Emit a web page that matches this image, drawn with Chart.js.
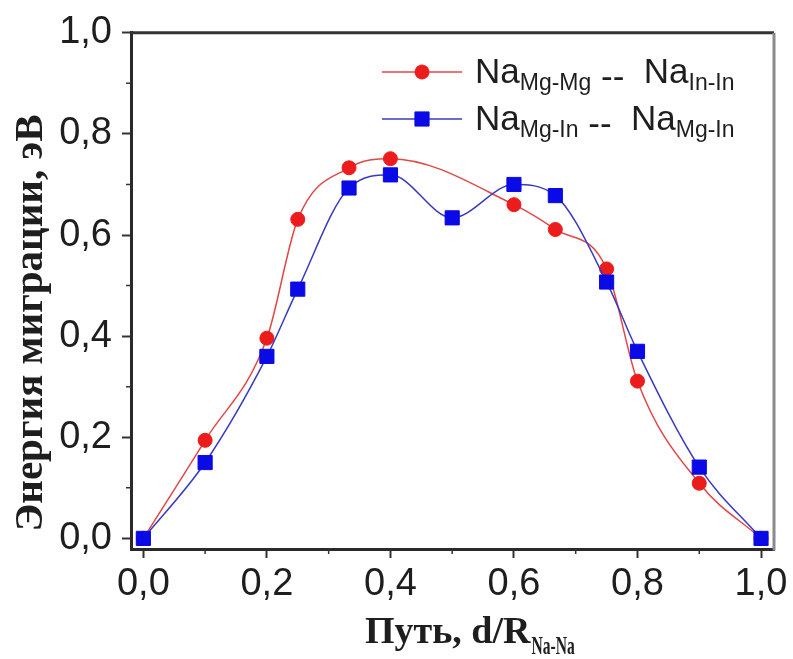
<!DOCTYPE html>
<html>
<head>
<meta charset="utf-8">
<title>Энергия миграции Na</title>
<script src="https://cdn.jsdelivr.net/npm/chart.js@4.4.1/dist/chart.umd.min.js"></script>
<style>
  html, body { margin: 0; padding: 0; background: #fff; }
  #wrap { width: 793px; height: 659px; }
</style>
</head>
<body>
<div id="wrap"><canvas id="chart" width="793" height="659"></canvas></div>
<script>
// path coordinate d/R(Na-Na) and migration energy (eV)
const mgMgX = [0, 0.1, 0.2, 0.25, 0.333, 0.4, 0.6, 0.667, 0.75, 0.8, 0.9, 1.0];
const mgMgY = [0, 0.194, 0.396, 0.631, 0.733, 0.751, 0.660, 0.611, 0.533, 0.311, 0.109, 0];

const mgInX = [0, 0.1, 0.2, 0.25, 0.333, 0.4, 0.5, 0.6, 0.667, 0.75, 0.8, 0.9, 1.0];
const mgInY = [0, 0.150, 0.360, 0.493, 0.693, 0.719, 0.634, 0.700, 0.678, 0.507, 0.370, 0.141, 0];

const xTicks = [0, 0.2, 0.4, 0.6, 0.8, 1.0];
const yTicks = [0, 0.2, 0.4, 0.6, 0.8, 1.0];
const xMinor = [0.1, 0.3, 0.5, 0.7, 0.9];
const yMinor = [0.1, 0.3, 0.5, 0.7, 0.9];

// legend rows: "Na" + subscript, "--", "Na" + subscript
const legendSubA = ['Mg-Mg', 'Mg-In'];
const legendSubB = ['In-In', 'Mg-In'];

const yTitle = 'Энергия миграции, эВ';
const xTitle = 'Путь, d/R';
const xTitleSub = 'Na-Na';

const RED = '#ec1c1c';
const RED_LINE = '#e04848';
const BLUE = '#0a0ae6';
const BLUE_LINE = '#3a3ac0';
const INK = '#1e1e1e';

const SANS = '"Liberation Sans", Arial, sans-serif';
const SERIF = '"Liberation Serif", "Times New Roman", serif';

const comma = v => Number(v).toFixed(1).replace('.', ',');
const toPoints = (xs, ys) => xs.map((x, i) => ({ x, y: ys[i] }));

// pieces: { t, sub } or { t, dy } drawn one after another on a baseline
function richText(ctx, x, y, pieces) {
  for (const p of pieces) {
    ctx.font = p.sub ? `23px ${SANS}` : `35px ${SANS}`;
    ctx.fillText(p.t, x, y + (p.sub ? 7 : (p.dy || 0)));
    x += ctx.measureText(p.t).width;
  }
}

const decorations = {
  id: 'decorations',
  afterDraw(chart) {
    const { ctx, chartArea: a, scales: { x, y } } = chart;
    ctx.save();

    // top and right frame
    ctx.lineWidth = 3;
    ctx.strokeStyle = '#333';
    ctx.beginPath();
    ctx.moveTo(a.left, a.top);
    ctx.lineTo(a.right, a.top);
    ctx.stroke();
    ctx.strokeStyle = '#8a8a8a';
    ctx.beginPath();
    ctx.moveTo(a.right, a.top);
    ctx.lineTo(a.right, a.bottom + 1.5);
    ctx.stroke();

    // minor ticks
    ctx.strokeStyle = '#333';
    ctx.lineWidth = 1.5;
    ctx.beginPath();
    xMinor.forEach(v => {
      const px = x.getPixelForValue(v);
      ctx.moveTo(px, a.bottom);
      ctx.lineTo(px, a.bottom + 5);
    });
    yMinor.forEach(v => {
      const py = y.getPixelForValue(v);
      ctx.moveTo(a.left, py);
      ctx.lineTo(a.left - 5, py);
    });
    ctx.stroke();

    // legend
    const rows = [
      { ds: chart.data.datasets[0], lineY: 72, base: 83 },
      { ds: chart.data.datasets[1], lineY: 119, base: 130 },
    ];
    rows.forEach((r, i) => {
      ctx.strokeStyle = r.ds.borderColor;
      ctx.lineWidth = r.ds.borderWidth;
      ctx.beginPath();
      ctx.moveTo(382, r.lineY);
      ctx.lineTo(462, r.lineY);
      ctx.stroke();
      ctx.fillStyle = r.ds.pointBackgroundColor;
      ctx.strokeStyle = r.ds.pointBorderColor;
      ctx.lineWidth = 1;
      Chart.helpers.drawPoint(ctx, { pointStyle: r.ds.pointStyle, radius: r.ds.pointRadius, borderWidth: 1 }, 422, r.lineY);
      ctx.fillStyle = INK;
      ctx.textAlign = 'left';
      ctx.textBaseline = 'alphabetic';
      richText(ctx, 475, r.base, [
        { t: 'Na' }, { t: legendSubA[i], sub: true },
        { t: ' --', dy: 5 }, { t: '  ' },
        { t: 'Na' }, { t: legendSubB[i], sub: true },
      ]);
    });

    // axis titles
    ctx.fillStyle = INK;
    ctx.save();
    ctx.translate(42, 323);
    ctx.rotate(-Math.PI / 2);
    ctx.textAlign = 'center';
    ctx.textBaseline = 'alphabetic';
    ctx.font = `bold 41px ${SERIF}`;
    ctx.fillText(yTitle, 0, 0);
    ctx.restore();

    ctx.textAlign = 'left';
    ctx.font = `bold 38px ${SERIF}`;
    ctx.fillText(xTitle, 365, 643);
    const subX = 365 + ctx.measureText(xTitle).width + 1;
    ctx.save();
    ctx.translate(subX, 654);
    ctx.scale(0.6, 1);
    ctx.font = `bold 26px ${SERIF}`;
    ctx.fillText(xTitleSub, 0, 0);
    ctx.restore();

    ctx.restore();
  }
};

const tickFont = { family: SANS, size: 38 };

new Chart(document.getElementById('chart'), {
  type: 'scatter',
  data: {
    datasets: [
      {
        label: 'NaMg-Mg -- NaIn-In',
        data: toPoints(mgMgX, mgMgY),
        showLine: true,
        cubicInterpolationMode: 'monotone',
        borderColor: RED_LINE,
        borderWidth: 1.5,
        pointStyle: 'circle',
        pointRadius: 7,
        pointBackgroundColor: RED,
        pointBorderColor: RED,
        pointBorderWidth: 1,
        order: 1,
      },
      {
        label: 'NaMg-In -- NaMg-In',
        data: toPoints(mgInX, mgInY),
        showLine: true,
        cubicInterpolationMode: 'monotone',
        borderColor: BLUE_LINE,
        borderWidth: 1.5,
        pointStyle: 'rect',
        pointRadius: 10,
        pointBackgroundColor: BLUE,
        pointBorderColor: BLUE,
        pointBorderWidth: 1,
        order: 0,
      },
    ],
  },
  options: {
    responsive: false,
    animation: false,
    layout: { padding: { top: 29, right: 19, left: 0, bottom: 0 } },
    plugins: { legend: { display: false }, tooltip: { enabled: false } },
    scales: {
      x: {
        type: 'linear',
        min: -0.02,
        max: 1.021,
        afterBuildTicks: s => { s.ticks = xTicks.map(v => ({ value: v })); },
        afterFit: s => { s.height = 110; },
        grid: { drawOnChartArea: false, tickLength: 9, tickWidth: 2, tickColor: '#333' },
        border: { color: '#2a2a2a', width: 3 },
        ticks: { font: tickFont, color: INK, padding: 4, maxRotation: 0, callback: comma },
      },
      y: {
        type: 'linear',
        min: -0.021,
        max: 1.0,
        afterBuildTicks: s => { s.ticks = yTicks.map(v => ({ value: v })); },
        afterFit: s => { s.width = 131; },
        grid: { drawOnChartArea: false, tickLength: 9, tickWidth: 2, tickColor: '#333' },
        border: { color: '#2a2a2a', width: 3 },
        ticks: { font: tickFont, color: INK, padding: 10, callback: comma },
      },
    },
  },
  plugins: [decorations],
});
</script>
</body>
</html>
